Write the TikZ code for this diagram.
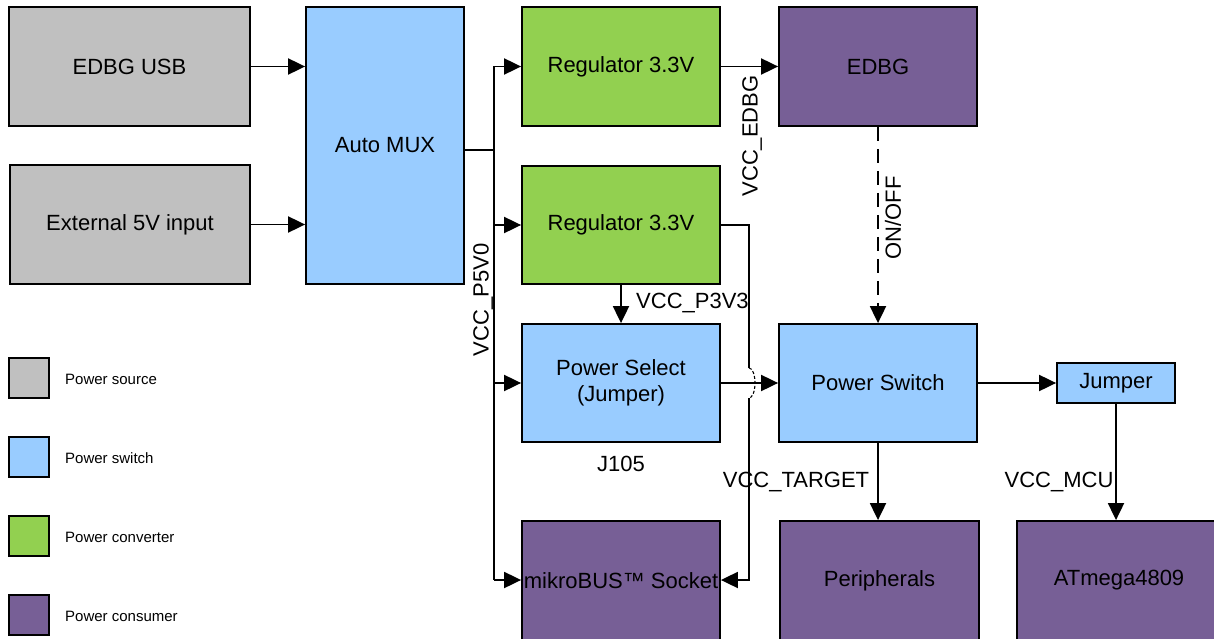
\documentclass[tikz,border=0pt]{standalone}
\usepackage{fontspec}
\setmainfont{Liberation Sans}
\usetikzlibrary{arrows.meta}
\definecolor{csrc}{HTML}{C0C0C0}
\definecolor{csw}{HTML}{99CCFF}
\definecolor{cconv}{HTML}{92D050}
\definecolor{ccons}{HTML}{775F96}
\tikzset{
  blk/.style={draw=black, line width=1.8pt, rectangle, inner sep=0pt, align=center,
    font=\fontsize{22}{26}\selectfont},
  src/.style={blk, fill=csrc},
  swb/.style={blk, fill=csw},
  conv/.style={blk, fill=cconv},
  cons/.style={blk, fill=ccons},
  leg/.style={draw=black, line width=1.8pt, minimum width=40pt, minimum height=40pt, inner sep=0pt},
  legtxt/.style={anchor=west, inner sep=0pt, font=\fontsize{15}{18}\selectfont},
  wire/.style={line width=1.9pt},
  arr/.style={wire, -{Triangle[length=17pt,width=16pt]}},
  lbl/.style={inner sep=0pt, font=\fontsize{22}{26}\selectfont},
}
\begin{document}
\begin{tikzpicture}[x=1pt,y=-1pt]
\useasboundingbox (0,0) rectangle (1214,639);
\clip (0,0) rectangle (1214,639);
% blocks
\node[src, minimum width=241pt, minimum height=119pt] (usb) at (129.5,66.5) {EDBG USB};
\node[src, minimum width=240pt, minimum height=119pt] (ext) at (130,224.5) {External 5V input};
\node[swb, minimum width=158pt, minimum height=277pt] (mux) at (385,145.5) {Auto MUX};
\node[conv, minimum width=198pt, minimum height=119pt] (reg1) at (621,66.5) {Regulator 3.3V};
\node[conv, minimum width=198pt, minimum height=118pt] (reg2) at (621,225) {Regulator 3.3V};
\node[swb, minimum width=198pt, minimum height=118pt] (psel) at (621,383) {Power Select\\(Jumper)};
\node[cons, minimum width=198pt, minimum height=119pt] (mikro) at (621,580.5) {mikroBUS\texttrademark\ Socket};
\node[cons, minimum width=198pt, minimum height=119pt] (edbg) at (878,66.5) {EDBG};
\node[swb, minimum width=198pt, minimum height=118pt] (psw) at (878,383) {Power Switch};
\node[swb, minimum width=118pt, minimum height=40pt] (jmp) at (1116,383) {Jumper};
\node[cons, minimum width=199pt, minimum height=119pt] (peri) at (879.5,580.5) {Peripherals};
\node[cons, minimum width=204pt, minimum height=119pt] (atm) at (1119,580.5) {ATmega4809};
% legend
\node[leg, fill=csrc] (l1) at (29,378) {};
\node[leg, fill=csw] (l2) at (29,457) {};
\node[leg, fill=cconv] (l3) at (29,536) {};
\node[leg, fill=ccons] (l4) at (29,615) {};
\node[legtxt] (t1) at (65,379) {Power source};
\node[legtxt] (t2) at (65,458) {Power switch};
\node[legtxt] (t3) at (65,537) {Power converter};
\node[legtxt] (t4) at (65,616) {Power consumer};
% inputs to mux
\draw[arr] (usb.east) -- (usb.east -| mux.west);
\draw[arr] (ext.east) -- (ext.east -| mux.west);
% 5V bus
\coordinate (bM) at (494,150);
\coordinate (bT) at (494,66.5);
\coordinate (bB) at (494,580);
\draw[wire] (mux.east |- bM) -- (bM);
\draw[wire] (bT) -- (bB);
\draw[arr] (bT) -- (reg1.west);
\draw[arr] (bT |- reg2.west) -- (reg2.west);
\draw[arr] (bT |- psel.west) -- (psel.west);
\draw[arr] (bB) -- (bB -| mikro.west);
\node[lbl, rotate=90] (p5) at (483,300) {VCC\_P5V0};
% regulator 1 to EDBG
\draw[arr] (reg1.east) -- (edbg.west);
\node[lbl, rotate=90] (ve) at (752,136) {VCC\_EDBG};
% EDBG on/off
\draw[arr, dash pattern=on 14pt off 8pt] (edbg.south) -- (psw.north);
\node[lbl, rotate=90] (oo) at (893,218) {ON/OFF};
% regulator 2 to power select
\draw[arr] (reg2.south) -- (psel.north);
\node[lbl, anchor=west] (p33) at (636,303) {VCC\_P3V3};
% power select to power switch
\draw[arr] (psel.east) -- (psw.west);
\node[lbl] (j105) at (621,464) {J105};
% regulator 2 to mikroBUS with line hop
\coordinate (h1) at (749,225);
\coordinate (h2) at (749,368);
\coordinate (h3) at (749,398);
\coordinate (h4) at (749,580);
\draw[wire] (reg2.east |- h1) -- (h1) -- (h2);
\draw[line width=1.1pt, dash pattern=on 3pt off 2pt] (h2) arc[start angle=-90, end angle=90, x radius=6pt, y radius=-15pt];
\draw[arr] (h3) -- (h4) -- (h4 -| mikro.east);
% power switch outputs
\draw[arr] (psw.east) -- (jmp.west);
\draw[arr] (psw.south) -- (psw.south |- peri.north);
\node[lbl] (vt) at (796,482) {VCC\_TARGET};
\draw[arr] (jmp.south) -- (jmp.south |- atm.north);
\node[lbl] (vm) at (1059,482) {VCC\_MCU};
\end{tikzpicture}
\end{document}
